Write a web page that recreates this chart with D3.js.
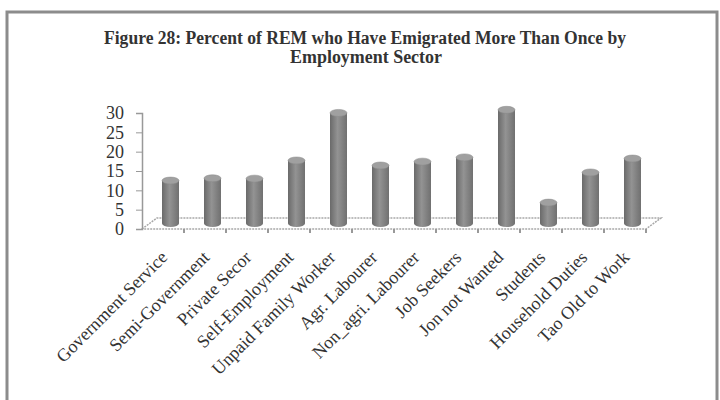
<!DOCTYPE html>
<html>
<head>
<meta charset="utf-8">
<script src="https://d3js.org/d3.v7.min.js"></script>
<style>
body { margin: 0; background: #fff; }
text { font-family: "Liberation Serif", "Times New Roman", serif; fill: #333; }
</style>
</head>
<body>
<script>
// chart data
var sectors = ["Government Service", "Semi-Government", "Private Secor", "Self-Employment",
  "Unpaid Family Worker", "Agr. Labourer", "Non_agri. Labourer", "Job Seekers",
  "Jon not Wanted", "Students", "Household Duties", "Tao Old to Work"];
var percents = [11.1, 11.7, 11.6, 16.3, 28.6, 15.0, 16.0, 17.1, 29.4, 5.4, 13.2, 16.8];
var yTicks = [0, 5, 10, 15, 20, 25, 30];
var titleLines = ["Figure 28: Percent of REM who Have Emigrated More Than Once by", "Employment Sector"];

var W = 720, H = 400;
var svg = d3.select("body").append("svg").attr("width", W).attr("height", H);

// frame
svg.append("rect").attr("x", 7).attr("y", 12).attr("width", 710).attr("height", 400)
  .attr("fill", "none").attr("stroke", "#8c8c8c").attr("stroke-width", 3);

// title
svg.append("text").attr("x", 365).attr("y", 44).attr("text-anchor", "middle")
  .attr("font-size", 18).attr("font-weight", "bold")
  .attr("textLength", 522).attr("lengthAdjust", "spacingAndGlyphs")
  .text(titleLines[0]);
svg.append("text").attr("x", 366).attr("y", 63).attr("text-anchor", "middle")
  .attr("font-size", 18).attr("font-weight", "bold")
  .attr("textLength", 152).attr("lengthAdjust", "spacingAndGlyphs")
  .text(titleLines[1]);

var x0 = 142, x1 = 646, yBase = 229, yTop = 113;
var depthX = 15, depthY = 11;

var x = d3.scaleBand().domain(sectors).range([x0, x1]);
var y = d3.scaleLinear().domain([0, 30]).range([yBase, yTop]);

// gradient for cylinders
var defs = svg.append("defs");
var grad = defs.append("linearGradient").attr("id", "cyl").attr("x1", 0).attr("x2", 1).attr("y1", 0).attr("y2", 0);
grad.append("stop").attr("offset", "0%").attr("stop-color", "#6a6a6a");
grad.append("stop").attr("offset", "45%").attr("stop-color", "#939393");
grad.append("stop").attr("offset", "100%").attr("stop-color", "#707070");

// floor
var floor = svg.append("g");
floor.append("path")
  .attr("d", "M" + x0 + "," + yBase + "L" + (x0 + depthX) + "," + (yBase - depthY) +
    "L" + (x1 + depthX) + "," + (yBase - depthY) + "L" + x1 + "," + yBase + "Z")
  .attr("fill", "none").attr("stroke", "#a8a8a8").attr("stroke-width", 1.5)
  .attr("stroke-dasharray", "2,1");

// y axis
var yAxis = svg.append("g").attr("transform", "translate(" + x0 + ",0)")
  .call(d3.axisLeft(y).tickValues(yTicks).tickSize(6).tickPadding(12));
yAxis.select(".domain").attr("stroke", "#999").attr("stroke-width", 1.5);
yAxis.selectAll(".tick line").attr("stroke", "#999");
yAxis.selectAll(".tick text").attr("font-size", 18).attr("fill", "#333")
  .attr("font-family", "Liberation Serif");

// x axis ticks and labels
var xAxis = svg.append("g").attr("transform", "translate(0," + yBase + ")");
xAxis.selectAll("line").data(sectors).enter().append("line")
  .attr("x1", function(d) { return x(d) + x.bandwidth(); })
  .attr("x2", function(d) { return x(d) + x.bandwidth(); })
  .attr("y1", 0).attr("y2", 4).attr("stroke", "#999").attr("stroke-width", 2);
xAxis.selectAll("text").data(sectors).enter().append("text")
  .attr("transform", function(d) {
    return "translate(" + (x(d) + x.bandwidth() / 2 + 1) + ",25) rotate(-45)";
  })
  .attr("text-anchor", "end").attr("font-size", 18).attr("dy", "0.35em")
  .text(function(d) { return d; });

// cylinders
var bw = 17, ry = 3.5;
var bars = svg.append("g").selectAll("g").data(percents).enter().append("g");
function barX(i) { return x(sectors[i]) + x.bandwidth() / 2 + depthX / 2; }
function barBase() { return yBase - depthY / 2; }
function barTop(d) { return y(d) - depthY / 2; }
bars.append("ellipse")
  .attr("cx", function(d, i) { return barX(i); }).attr("cy", barBase())
  .attr("rx", bw / 2).attr("ry", ry).attr("fill", "url(#cyl)");
bars.append("rect")
  .attr("x", function(d, i) { return barX(i) - bw / 2; })
  .attr("y", function(d) { return barTop(d); })
  .attr("width", bw)
  .attr("height", function(d) { return barBase() - barTop(d); })
  .attr("fill", "url(#cyl)");
bars.append("ellipse")
  .attr("cx", function(d, i) { return barX(i); })
  .attr("cy", function(d) { return barTop(d); })
  .attr("rx", bw / 2).attr("ry", ry).attr("fill", "#a0a0a0")
  .attr("stroke", "#888", 0).attr("stroke-width", 0.5);
</script>
</body>
</html>
